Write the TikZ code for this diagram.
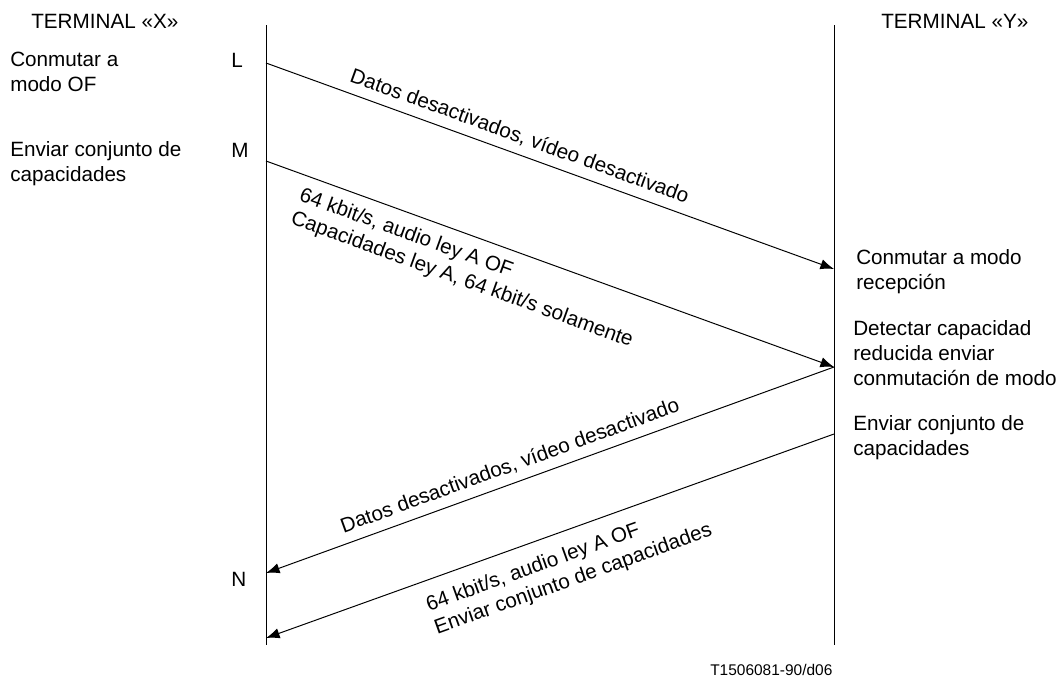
\documentclass[tikz,border=0pt]{standalone}
\usepackage{fontspec}
\setmainfont{Liberation Sans}
\usetikzlibrary{arrows.meta}

\begin{document}
\begin{tikzpicture}[x=0.025cm,y=-0.025cm,>={Latex[length=3.4mm,width=2.6mm]}]

\tikzstyle {txt}=[font=\fontsize{14.7}{17.6}\selectfont,inner sep=0pt,
     align=left, anchor=base west];

\tikzstyle {msg}=[txt, sloped];

\tikzstyle {lifeline}=[line width=0.7pt];

\tikzstyle {signal}=[->, line width=0.7pt];

\useasboundingbox (0,0) rectangle (1056,677);

% Terminals and their lifelines
\draw (31,28) node [txt] (tx) {TERMINAL «X»};
\draw (881,28) node [txt] (ty) {TERMINAL «Y»};

\coordinate (x0) at (266,25);
\coordinate (x1) at (266,645);
\coordinate (y0) at (834,25);
\coordinate (y1) at (834,645);
\draw [lifeline] (x0) -- (x1);
\draw [lifeline] (y0) -- (y1);

% Points on the lifelines
\coordinate (xl) at (266,63);
\coordinate (xm) at (266,161);
\coordinate (xn) at (266,573);
\coordinate (xe) at (266,638);
\coordinate (yr) at (834,269);
\coordinate (yd) at (834,367);
\coordinate (ye) at (834,434);

% Terminal X side (base = last line)
\draw (231,67) node [txt] (l) {L};
\draw (231,157) node [txt] (m) {M};
\draw (231,586) node [txt] (n) {N};
\draw (10,91.5) node [txt] (xof) {Conmutar a\\modo OF};
\draw (10,181.5) node [txt] (xcap) {Enviar conjunto de\\capacidades};

% Terminal Y side
\draw (856,289.5) node [txt] (yrx) {Conmutar a modo\\recepción};
\draw (853,385) node [txt] (ydet) {Detectar capacidad\\reducida enviar\\conmutación de modo};
\draw (853,455.5) node [txt] (ycap) {Enviar conjunto de\\capacidades};

% Signals
\draw [signal] (xl) -- node [msg, above=2mm, pos=.436] (s1)
  {Datos desactivados, vídeo desactivado} (yr);
\draw [signal] (xm) -- node [msg, below=2.6mm, pos=.372] (s2)
  {64 kbit/s, audio ley A OF\\Capacidades ley A, 64 kbit/s solamente} (yd);
\draw [signal] (yd) -- node [msg, above=2mm, pos=.56] (s3)
  {Datos desactivados, vídeo desactivado} (xn);
\draw [signal] (ye) -- node [msg, below=3.6mm, pos=.488] (s4)
  {64 kbit/s, audio ley A OF\\Enviar conjunto de capacidades} (xe);

% Figure number
\draw (710,675) node [txt, font=\fontsize{11}{13}\selectfont] (fig) {T1506081-90/d06};
\end{tikzpicture}
\end{document}
